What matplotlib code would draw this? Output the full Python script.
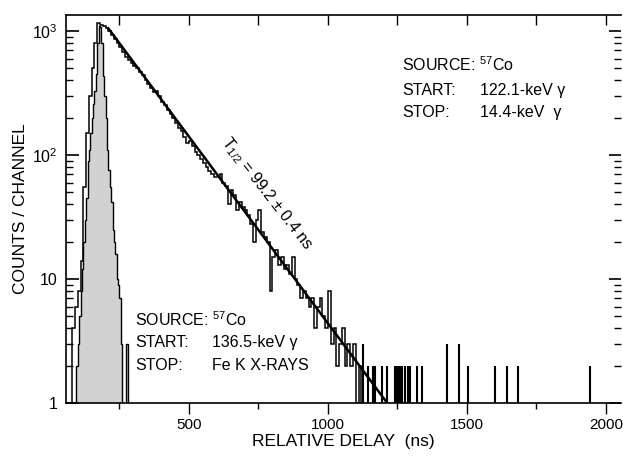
import matplotlib
matplotlib.use('Agg')
import matplotlib.pyplot as plt
import numpy as np

plt.rcParams.update({
    'font.family': ['Liberation Sans', 'DejaVu Sans'],
    'mathtext.fontset': 'custom',
    'mathtext.rm': 'Liberation Sans',
    'mathtext.it': 'Liberation Sans:italic',
    'font.size': 11,
})

# 122.1-keV start / 14.4-keV stop spectrum, 10 ns channels starting at 70 ns
main_start = 70
main_width = 10
main_counts = [0, 4, 6, 8, 14, 55, 150, 300, 500, 800, 1150, 1120, 1090, 1050,
               1000, 920, 860, 800, 740, 680, 620, 580, 550, 520, 500, 470, 440,
               400, 375, 350, 325, 330, 300, 270, 255, 230, 215, 200, 180, 165,
               155, 140, 125, 130, 118, 105, 100, 92, 86, 80, 74, 70, 67, 66, 70,
               60, 56, 40, 52, 48, 36, 42, 38, 36, 33, 28, 20, 30, 36, 24, 22, 20,
               8, 15, 17, 13, 15, 12, 13, 11, 15, 10, 9, 7, 8, 7, 6, 7, 4, 6, 7,
               5, 4, 8, 3, 4, 2, 3, 4, 2, 3, 2, 3, 1, 2]

# sparse late channels (ns, counts)
tail_pos = [1126, 1144, 1162, 1170, 1195, 1213, 1242, 1248, 1254, 1260, 1266,
            1278, 1288, 1296, 1321, 1339, 1429, 1472, 1504, 1602, 1645, 1684, 1944]
tail_counts = [3, 2, 2, 2, 2, 2, 2, 2, 2, 2, 2, 2, 2, 2, 2, 2, 3, 3, 2, 2, 2, 2, 2]

# prompt spectrum (136.5-keV start / Fe K x-rays stop), 5 ns channels from 95 ns
prompt_start = 95
prompt_width = 5
prompt_counts = [2, 3, 5, 8, 12, 20, 30, 45, 90, 110, 150, 200, 260, 330, 450,
                 800, 1100, 1080, 800, 430, 300, 200, 110, 76, 55, 42, 25, 20,
                 16, 10, 9, 7, 3, 0, 0, 0, 3]

# fitted exponential, end points
fit_x = [210, 1213]
fit_y = [1050, 1]

fig = plt.figure(figsize=(6.23, 4.61), dpi=100)
ax = fig.add_axes([66 / 623, 58 / 461, 555 / 623, 388 / 461])
ax.set_yscale('log')

pe = prompt_start + prompt_width * np.arange(len(prompt_counts) + 1)
pc = np.array(prompt_counts, dtype=float)
ax.stairs(np.where(pc > 0, pc, 1), pe, baseline=1, fill=True,
          facecolor='#d2d2d2', edgecolor='none', zorder=1)
ax.stairs(pc, pe, color='black', lw=1.0, zorder=2)

me = main_start + main_width * np.arange(len(main_counts) + 1)
ax.stairs(main_counts, me, color='black', lw=1.1, zorder=3)
ax.vlines(tail_pos, 0.5, tail_counts, color='black', lw=1.5, zorder=3)

ax.plot(fit_x, fit_y, color='black', lw=1.8, zorder=4)

ax.set_xlim(57.6, 2054)
ax.set_ylim(1, 1346)
ax.set_xticks([500, 1000, 1500, 2000])
ax.set_xticks([250, 750, 1250, 1750], minor=True)
ax.set_yticks([1, 10, 100, 1000])
ax.set_yticklabels(['1', '10', '$10^2$', '$10^3$'])
ax.yaxis.set_minor_locator(matplotlib.ticker.LogLocator(base=10, subs=np.arange(2, 10)))
ax.yaxis.set_minor_formatter(matplotlib.ticker.NullFormatter())

ax.tick_params(axis='x', which='major', direction='out', length=8, width=1, top=False,
               labelsize=11, pad=3)
ax.tick_params(axis='x', which='minor', direction='out', length=4, width=1, top=False)
ax.tick_params(axis='y', which='major', direction='in', length=9, width=1.2, right=True,
               labelsize=11.5, pad=6)
ax.tick_params(axis='y', which='minor', direction='in', length=5, width=1, right=True)
top = ax.secondary_xaxis('top')
top.set_xticks([250, 500, 750, 1000, 1250, 1500, 1750, 2000], labels=[])
top.tick_params(direction='in', length=7, width=1)
top.spines['top'].set_visible(False)
for s in ax.spines.values():
    s.set_linewidth(1.2)
ax.spines['right'].set_visible(False)

ax.set_xlabel('RELATIVE DELAY  (ns)', fontsize=12.5, labelpad=1)
ax.set_ylabel('COUNTS / CHANNEL', fontsize=12.5, labelpad=3)

fs = 11.5
# upper-right legend text
ax.text(402, 461 - 65, 'SOURCE: $^{57}$Co', transform=None, fontsize=fs, va='center')
ax.text(402, 461 - 90, 'START:', transform=None, fontsize=fs, va='center')
ax.text(480, 461 - 90, '122.1-keV γ', transform=None, fontsize=fs, va='center')
ax.text(402, 461 - 112, 'STOP:', transform=None, fontsize=fs, va='center')
ax.text(480, 461 - 112, '14.4-keV  γ', transform=None, fontsize=fs, va='center')
# lower-left legend text
ax.text(135, 461 - 320, 'SOURCE: $^{57}$Co', transform=None, fontsize=fs, va='center')
ax.text(135, 461 - 342, 'START:', transform=None, fontsize=fs, va='center')
ax.text(212, 461 - 342, '136.5-keV γ', transform=None, fontsize=fs, va='center')
ax.text(135, 461 - 365, 'STOP:', transform=None, fontsize=fs, va='center')
ax.text(212, 461 - 365, 'Fe K X-RAYS', transform=None, fontsize=fs, va='center')

ax.text(267, 461 - 194, r'T$_{1/2}$ = 99.2 $\pm$ 0.4 ns', transform=None,
        fontsize=fs, rotation=-52, ha='center', va='center', rotation_mode='anchor')

fig.savefig('out.png', dpi=100)
